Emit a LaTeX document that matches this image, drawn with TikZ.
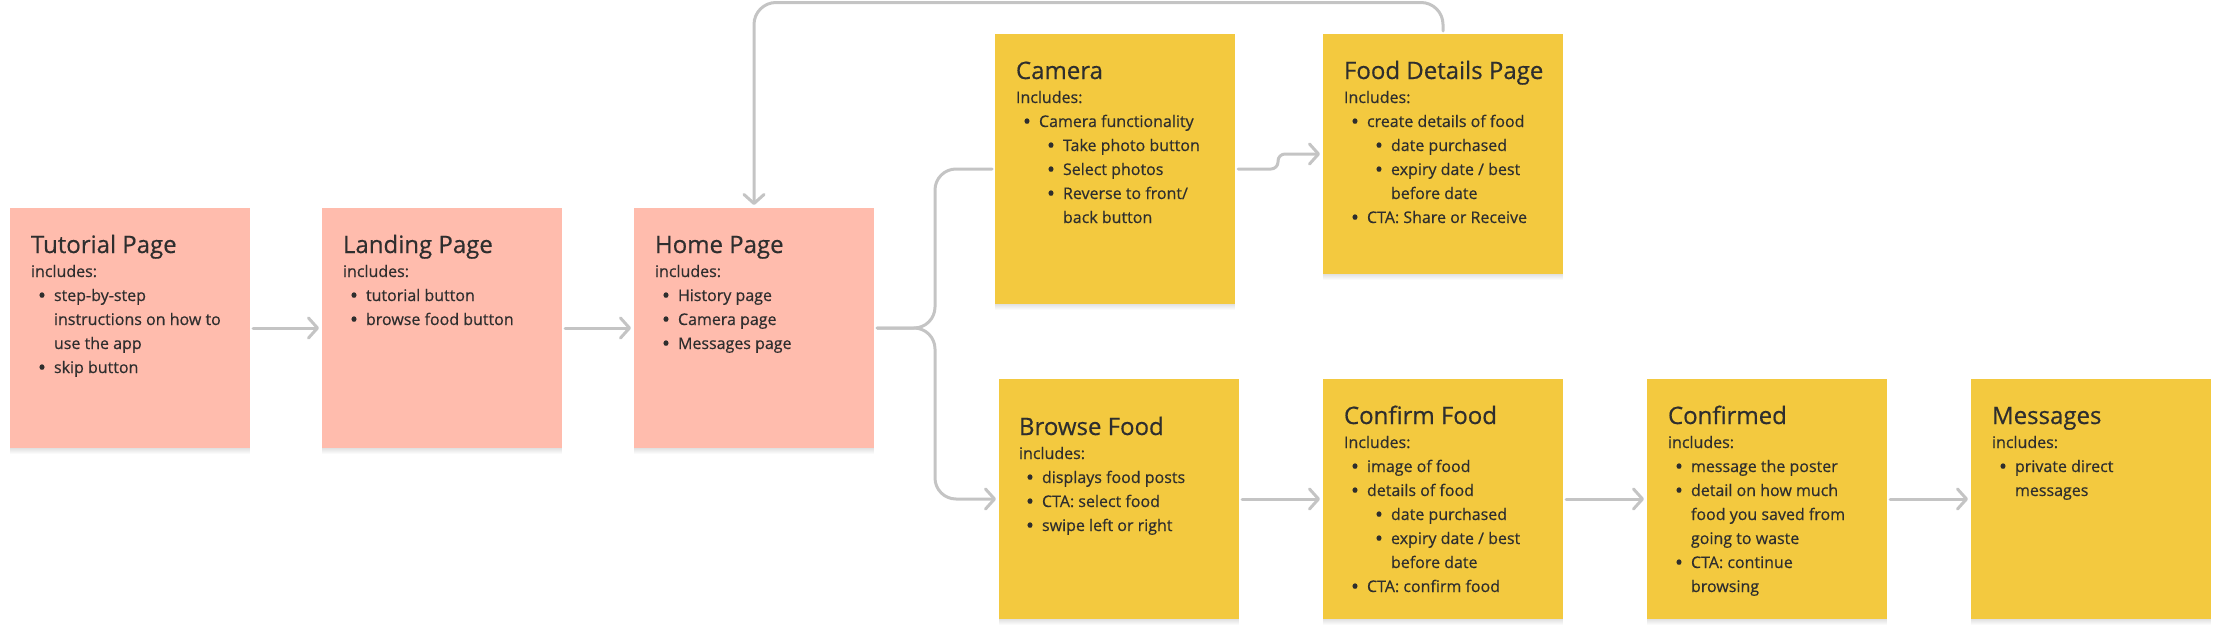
\documentclass[tikz,border=0pt]{standalone}
\usepackage{fontspec}
\setmainfont{Open Sans}[FakeBold=0.5]
\usetikzlibrary{arrows.meta,calc}
\definecolor{salmon}{HTML}{FFBCAD}
\definecolor{sticky}{HTML}{F3C93F}
\definecolor{ink}{HTML}{2E2E2E}
\definecolor{wire}{HTML}{C4C4C4}
\newcommand\flDot{\makebox[0pt]{\raisebox{-2pt}{\scalebox{1.35}{\textbullet}}}}
\newcommand\flTitle[1]{\hbox{\fontsize{24}{24}\selectfont #1}}
\newcommand\flLine[1]{\hbox{#1}}
\newcommand\flBul[1]{\hbox{\kern11pt\flDot\kern12pt #1}}
\newcommand\flCont[1]{\hbox{\kern23pt #1}}
\newcommand\flSub[1]{\hbox{\kern35pt\flDot\kern12pt #1}}
\newcommand\flSubCont[1]{\hbox{\kern47pt #1}}
\newcommand\flBlock[1]{\vtop{\fontsize{16}{24}\selectfont\baselineskip=24pt\lineskiplimit=-100pt\lineskip=0pt #1}}
\begin{document}
\begin{tikzpicture}[x=1pt,y=-1pt,
  card/.style={anchor=north west, inner sep=0pt, outer sep=0pt,
    minimum width=240pt, minimum height=240pt,
    preaction={fill=black,opacity=0.02,transform canvas={yshift=-1pt}},
    preaction={fill=black,opacity=0.02,transform canvas={yshift=-2pt}},
    preaction={fill=black,opacity=0.02,transform canvas={yshift=-3pt}},
    preaction={fill=black,opacity=0.02,transform canvas={yshift=-4pt}},
    preaction={fill=black,opacity=0.02,transform canvas={yshift=-5pt}},
    preaction={fill=black,opacity=0.02,transform canvas={yshift=-6pt}}},
  pinkcard/.style={card, fill=salmon},
  yellowcard/.style={card, fill=sticky},
  txt/.style={anchor=base west, inner sep=0pt, outer sep=0pt, text=ink},
  wireline/.style={draw=wire, line width=3pt, line cap=round, line join=round,
    shorten <=3pt, shorten >=3pt},
  arr/.style={wireline, -{Straight Barb[length=9pt,width=20pt,round]}}]
\useasboundingbox (0,0) rectangle (2221,637);

% cards
\node[pinkcard] (tut) at (10,208) {};
\node[pinkcard] (land) at (322,208) {};
\node[pinkcard] (home) at (634,208) {};
\node[yellowcard, minimum height=270pt] (cam) at (995,34) {};
\node[yellowcard] (fd) at (1323,34) {};
\node[yellowcard] (browse) at (999,379) {};
\node[yellowcard] (confirm) at (1323,379) {};
\node[yellowcard] (confirmed) at (1647,379) {};
\node[yellowcard] (msg) at (1971,379) {};

% texts
\node[txt] (tutX) at ($(tut.north west)+(21,45)$) {\flBlock{%
  \flTitle{Tutorial Page}\flLine{includes:}%
  \flBul{step-by-step}\flCont{instructions on how to}\flCont{use the app}%
  \flBul{skip button}}};
\node[txt] (landX) at ($(land.north west)+(21,45)$) {\flBlock{%
  \flTitle{Landing Page}\flLine{includes:}%
  \flBul{tutorial button}\flBul{browse food button}}};
\node[txt] (homeX) at ($(home.north west)+(21,45)$) {\flBlock{%
  \flTitle{Home Page}\flLine{includes:}%
  \flBul{History page}\flBul{Camera page}\flBul{Messages page}}};
\node[txt] (camX) at ($(cam.north west)+(21,45)$) {\flBlock{%
  \flTitle{Camera}\flLine{Includes:}%
  \flBul{Camera functionality}\flSub{Take photo button}\flSub{Select photos}%
  \flSub{Reverse to front/}\flSubCont{back button}}};
\node[txt] (fdX) at ($(fd.north west)+(21,45)$) {\flBlock{%
  \flTitle{Food Details Page}\flLine{Includes:}%
  \flBul{create details of food}\flSub{date purchased}\flSub{expiry date / best}%
  \flSubCont{before date}\flBul{CTA: Share or Receive}}};
\node[txt] (browseX) at ($(browse.north west)+(20,56)$) {\flBlock{%
  \flTitle{Browse Food}\flLine{includes:}%
  \flBul{displays food posts}\flBul{CTA: select food}\flBul{swipe left or right}}};
\node[txt] (confirmX) at ($(confirm.north west)+(21,45)$) {\flBlock{%
  \flTitle{Confirm Food}\flLine{Includes:}%
  \flBul{image of food}\flBul{details of food}\flSub{date purchased}%
  \flSub{expiry date / best}\flSubCont{before date}\flBul{CTA: confirm food}}};
\node[txt] (confirmedX) at ($(confirmed.north west)+(21,45)$) {\flBlock{%
  \flTitle{Confirmed}\flLine{includes:}%
  \flBul{message the poster}\flBul{detail on how much}\flCont{food you saved from}%
  \flCont{going to waste}\flBul{CTA: continue}\flCont{browsing}}};
\node[txt] (msgX) at ($(msg.north west)+(21,45)$) {\flBlock{%
  \flTitle{Messages}\flLine{includes:}%
  \flBul{private direct}\flCont{messages}}};

% connectors
\coordinate (fork) at (935,328);
\coordinate (sbend) at (1278,0);
\coordinate (topline) at (0,2.5);
\draw[arr] (tut.east) -- (land.west);
\draw[arr] (land.east) -- (home.west);
\draw[wireline, rounded corners=21pt] (home.east) -- (fork) |- (cam.west);
\draw[arr, rounded corners=21pt] (home.east) -- (fork) |- (browse.west);
\draw[arr, rounded corners=7pt] (cam.east) -- (cam.east -| sbend) -- (sbend |- fd.west) -- (fd.west);
\draw[arr, rounded corners=22pt] (fd.north) -- (fd.north |- topline) -- (home.north |- topline) -- (home.north);
\draw[arr] (browse.east) -- (confirm.west);
\draw[arr] (confirm.east) -- (confirmed.west);
\draw[arr] (confirmed.east) -- (msg.west);
\end{tikzpicture}
\end{document}
